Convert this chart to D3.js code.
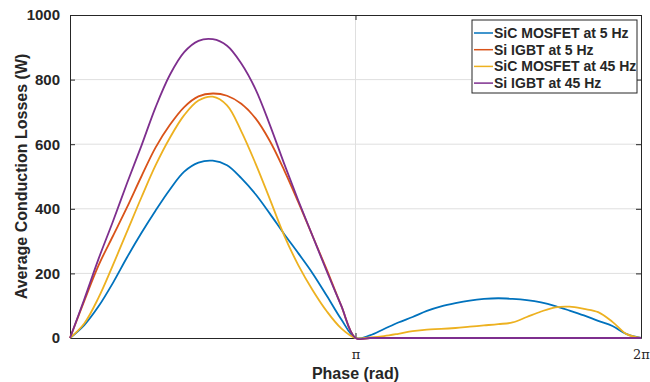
<!DOCTYPE html>
<html><head><meta charset="utf-8">
<script src="https://cdn.jsdelivr.net/npm/d3@7/dist/d3.min.js"></script>
<style>body{margin:0;background:#fff}svg{display:block}text{font-family:Arial,"Liberation Sans",sans-serif;font-weight:bold;fill:#262626}</style>
</head><body><svg id="c" width="650" height="382"></svg>
<script>
// phase in multiples of pi
const phaseOverPi = [0,0.05,0.1,0.15,0.2,0.25,0.3,0.35,0.4,0.45,0.5,0.55,0.6,0.65,0.7,0.75,0.8,0.85,0.9,0.95,1.0,
  1.05,1.1,1.15,1.2,1.25,1.3,1.35,1.4,1.45,1.5,1.55,1.6,1.65,1.7,1.75,1.8,1.85,1.9,1.95,2.0];
const sicMosfet5 = [0,40,98,170,250,325,395,460,515,543,549,535,495,445,385,322,262,200,130,58,0,
  8,28,48,65,84,98,108,116,121,123,121,117,110,99,85,70,53,37,12,0];
const siIgbt5 = [0,115,225,315,405,500,590,660,715,748,757,750,725,680,610,520,420,315,210,100,0,
  0,0,0,0,0,0,0,0,0,0,0,0,0,0,0,0,0,0,0,0];
const sicMosfet45 = [0,45,125,225,330,435,535,620,690,735,747,720,640,540,430,318,225,148,82,30,0,
  2,6,13,21,26,28,31,35,39,43,48,65,82,95,97,90,80,50,12,0];
const siIgbt45 = [0,120,245,360,480,595,715,815,885,920,925,905,850,770,660,540,425,315,205,100,0,
  0,0,0,0,0,0,0,0,0,0,0,0,0,0,0,0,0,0,0,0];
const seriesNames = ["SiC MOSFET at 5 Hz","Si IGBT at 5 Hz","SiC MOSFET at 45 Hz","Si IGBT at 45 Hz"];
const seriesColors = ["#0072BD","#D95319","#EDB120","#7E2F8E"];
const yTicks = [0,200,400,600,800,1000];
const xTicks = [1,2];
const xTickLabels = ["π","2π"];

const seriesData = [sicMosfet5, siIgbt5, sicMosfet45, siIgbt45];
const svg = d3.select("#c");
const m = {l:70, t:15, r:9, b:44};
const W = 650, H = 382;
const x = d3.scaleLinear().domain([0,2]).range([m.l, W-m.r]);
const y = d3.scaleLinear().domain([0,1000]).range([H-m.b, m.t]);
const axisCol = "#262626";

// grid
svg.append("g").selectAll("line").data(yTicks.filter(d=>d>0&&d<1000)).join("line")
  .attr("x1",x(0)).attr("x2",x(2)).attr("y1",d=>y(d)).attr("y2",d=>y(d))
  .attr("stroke","#dfdfdf").attr("stroke-width",1);
svg.append("g").selectAll("line").data(xTicks.filter(d=>d<2)).join("line")
  .attr("x1",d=>x(d)).attr("x2",d=>x(d)).attr("y1",y(0)).attr("y2",y(1000))
  .attr("stroke","#dfdfdf").attr("stroke-width",1);

// axes (ticks inward)
const yAxisL = d3.axisLeft(y).tickValues(yTicks).tickFormat(d3.format("d")).tickSizeInner(-5).tickSizeOuter(0).tickPadding(10);
const gL = svg.append("g").attr("transform",`translate(${x(0)},0)`).call(yAxisL);
const yAxisR = d3.axisRight(y).tickValues(yTicks).tickSizeInner(-5).tickSizeOuter(0).tickFormat("");
const gR = svg.append("g").attr("transform",`translate(${x(2)},0)`).call(yAxisR);
const xAxisB = d3.axisBottom(x).tickValues(xTicks).tickSizeInner(-5).tickSizeOuter(0).tickPadding(12)
  .tickFormat((d,i)=>xTickLabels[i]);
const gB = svg.append("g").attr("transform",`translate(0,${y(0)})`).call(xAxisB);
const xAxisT = d3.axisTop(x).tickValues(xTicks).tickSizeInner(-5).tickSizeOuter(0).tickFormat("");
const gT = svg.append("g").attr("transform",`translate(0,${y(1000)})`).call(xAxisT);
[gL,gR,gB,gT].forEach(g=>{
  g.selectAll("path,line").attr("stroke",axisCol).attr("stroke-width",1);
  g.selectAll("text").attr("fill",axisCol).style("font-family","Arial, 'Liberation Sans', sans-serif")
    .style("font-weight","bold").style("font-size","15px");
});
gB.selectAll("text").style("font-family","'DejaVu Serif', serif").style("font-weight","normal").style("font-size","13px");

// lines
const line = d3.line().x((d,i)=>x(phaseOverPi[i])).y(d=>y(Math.max(0,d))).curve(d3.curveCatmullRom.alpha(0.5));
seriesData.forEach((s,k)=>{
  svg.append("path").datum(s).attr("d",line).attr("fill","none")
    .attr("stroke",seriesColors[k]).attr("stroke-width",1.8).attr("stroke-linejoin","round");
});

// titles
svg.append("text").attr("x",x(1)).attr("y",379).attr("text-anchor","middle")
  .style("font-size","16px").text("Phase (rad)");
svg.append("text").attr("transform",`translate(27,${y(500)}) rotate(-90)`).attr("text-anchor","middle")
  .style("font-size","16px").text("Average Conduction Losses (W)");

// legend
const lg = svg.append("g");
lg.append("rect").attr("x",472).attr("y",20).attr("width",165).attr("height",73)
  .attr("fill","#fff").attr("stroke",axisCol).attr("stroke-width",1);
seriesNames.forEach((n,k)=>{
  const yy = 33 + k*16.7;
  lg.append("line").attr("x1",474).attr("x2",493).attr("y1",yy).attr("y2",yy)
    .attr("stroke",seriesColors[k]).attr("stroke-width",1.5);
  lg.append("text").attr("x",494).attr("y",yy).attr("dy","0.36em")
    .style("font-size","14px").text(n);
});
</script></body></html>
